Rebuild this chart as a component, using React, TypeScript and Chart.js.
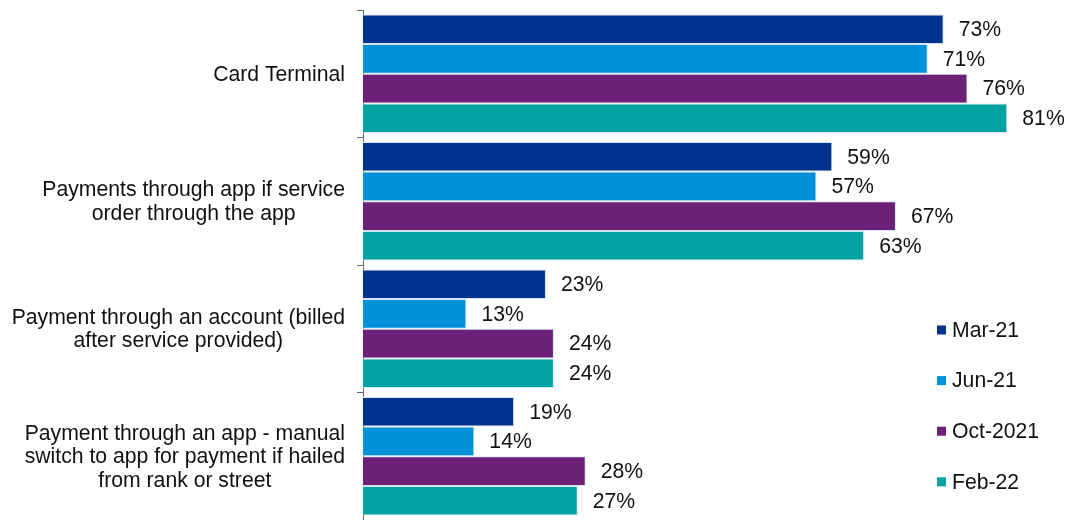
import React, { useEffect, useRef } from "react";
import { Chart, registerables } from "chart.js";

Chart.register(...registerables);

const categories: string[][] = [
  ["Card Terminal"],
  ["Payments through app if service", "order through the app"],
  ["Payment through an account (billed", "after service provided)"],
  ["Payment through an app - manual", "switch to app for payment if hailed", "from rank or street"],
];

const seriesNames = ["Mar-21", "Jun-21", "Oct-2021", "Feb-22"];
const seriesColors = ["#00338D", "#0091DA", "#6D2077", "#00A3A1"];

const mar21 = [73, 59, 23, 19];
const jun21 = [71, 57, 13, 14];
const oct2021 = [76, 67, 24, 28];
const feb22 = [81, 63, 24, 27];

const seriesValues = [mar21, jun21, oct2021, feb22];

const FONT = '"Liberation Sans", Arial, sans-serif';
const FONT_SIZE = 21.2;

const overlayPlugin = {
  id: "overlay",
  afterDatasetsDraw(chart: any) {
    const ctx = chart.ctx;
    ctx.save();
    ctx.font = `${FONT_SIZE}px ${FONT}`;
    ctx.fillStyle = "#111";
    // value labels
    chart.data.datasets.forEach((ds: any, di: number) => {
      const meta = chart.getDatasetMeta(di);
      meta.data.forEach((bar: any, i: number) => {
        ctx.textAlign = "left";
        ctx.textBaseline = "middle";
        ctx.fillText(`${ds.data[i]}%`, bar.x + 15, bar.y + 1);
      });
    });
    // category labels
    const yScale = chart.scales.y;
    const lineH = 23.4;
    const rightEdge = chart.chartArea.left - 18;
    categories.forEach((lines, i) => {
      const cy = yScale.getPixelForValue(i);
      const widest = Math.max(...lines.map((l) => ctx.measureText(l).width));
      const cx = rightEdge - widest / 2;
      const startY = cy - ((lines.length - 1) * lineH) / 2;
      ctx.textAlign = "center";
      ctx.textBaseline = "middle";
      lines.forEach((l, k) => ctx.fillText(l, cx, startY + k * lineH + 1));
    });
    // legend
    chart.data.datasets.forEach((ds: any, di: number) => {
      const y = 330 + di * 50.6;
      ctx.fillStyle = ds.backgroundColor;
      ctx.fillRect(937, y - 4.5, 9, 9);
      ctx.fillStyle = "#111";
      ctx.textAlign = "left";
      ctx.textBaseline = "middle";
      ctx.fillText(ds.label, 952, y + 1);
    });
    ctx.restore();
  },
};

export default function App() {
  const ref = useRef<HTMLCanvasElement | null>(null);
  useEffect(() => {
    if (!ref.current) return;
    const chart = new Chart(ref.current, {
      type: "bar",
      data: {
        labels: categories.map((c) => c.join(" ")),
        datasets: seriesNames.map((name, i) => ({
          label: name,
          data: seriesValues[i],
          backgroundColor: seriesColors[i],
          borderColor: "#d4e4f0",
          borderWidth: 1,
          categoryPercentage: 0.93,
          barPercentage: 1,
        })),
      },
      options: {
        indexAxis: "y",
        animation: false,
        responsive: false,
        layout: { padding: { top: 10, right: 5, bottom: 0, left: 0 } },
        plugins: { legend: { display: false }, tooltip: { enabled: false } },
        scales: {
          x: {
            display: false,
            min: 0,
            max: 88,
          },
          y: {
            afterFit: (scale: any) => {
              scale.width = 363;
            },
            ticks: { display: false },
            grid: {
              display: true,
              offset: true,
              drawOnChartArea: false,
              drawTicks: true,
              tickLength: 6,
              color: "#666666",
              lineWidth: 1,
            },
            border: { display: true, color: "#666666", width: 1 },
          },
        },
      },
      plugins: [overlayPlugin],
    });
    return () => chart.destroy();
  }, []);
  return (
    <div style={{ position: "fixed", left: 0, top: 0, width: 1068, height: 520, background: "#fff" }}>
      <canvas ref={ref} width={1068} height={520} />
    </div>
  );
}
